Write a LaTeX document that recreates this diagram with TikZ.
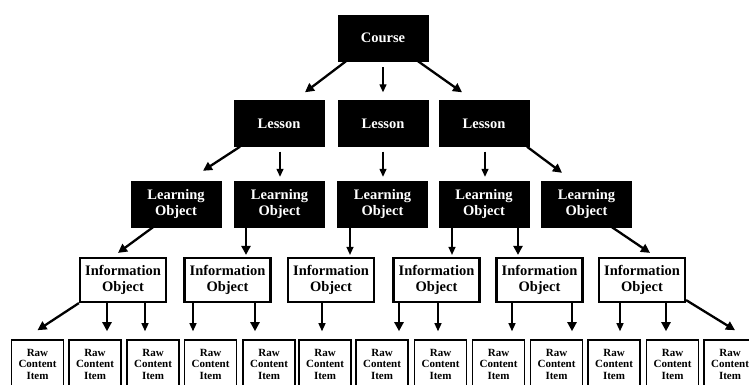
\documentclass[tikz,border=0pt]{standalone}
\usepackage{fontspec}
\setmainfont{Liberation Serif}
\usetikzlibrary{arrows.meta}
\begin{document}
\begin{tikzpicture}[x=1pt,y=-1pt,
  dark/.style={draw=black,fill=black,text=white,minimum width=90pt,minimum height=46pt,inner sep=0pt,align=center,font=\bfseries\fontsize{14.5}{16}\selectfont},
  info/.style={draw=black,line width=2.2pt,fill=white,minimum width=86pt,minimum height=44pt,inner sep=0pt,align=center,font=\bfseries\fontsize{14.5}{16}\selectfont},
  raw/.style={draw=black,line width=1.6pt,fill=white,minimum width=52pt,minimum height=48pt,inner sep=0pt,align=center,font=\bfseries\fontsize{11}{11.5}\selectfont},
  arr/.style={line width=1.3pt,-{Triangle[length=8pt,width=7pt]}},
  tarr/.style={line width=2.3pt,-{Triangle[length=9pt,width=9pt]}}]
\useasboundingbox (0,0) rectangle (749,384);
% nodes
\node[dark] (course) at (383,38) {Course};
\node[dark] (l1) at (279,123.5) {Lesson};
\node[dark] (l2) at (383,123.5) {Lesson};
\node[dark] (l3) at (484,123.5) {Lesson};
\node[dark] (lo1) at (176,204) {Learning\\Object};
\node[dark] (lo2) at (279.5,204) {Learning\\Object};
\node[dark] (lo3) at (382.5,204) {Learning\\Object};
\node[dark] (lo4) at (484,204) {Learning\\Object};
\node[dark] (lo5) at (586.5,204) {Learning\\Object};
\node[info] (io1) at (123,280) {Information\\Object};
\node[info] (io2) at (227.5,280) {Information\\Object};
\node[info] (io3) at (331,280) {Information\\Object};
\node[info] (io4) at (436.5,280) {Information\\Object};
\node[info] (io5) at (539.5,280) {Information\\Object};
\node[info] (io6) at (642,280) {Information\\Object};
\foreach \n/\x in {1/37.5,2/95,3/153,4/210.5,5/269,6/325,7/382,8/440.5,9/498.5,10/556.5,11/614,12/672.5,13/730}{
  \node[raw] (rc\n) at (\x,364) {Raw\\Content\\Item};
}
% course -> lessons
\draw[tarr] ([xshift=-37]course.south) -- ([xshift=26,yshift=8]l1.north);
\draw[arr] ([yshift=-6]course.south) -- ([yshift=8]course.south |- l2.north);
\draw[tarr] ([xshift=35]course.south) -- ([xshift=-22,yshift=8]l3.north);
% lessons -> learning objects
\draw[tarr] ([xshift=-39]l1.south) -- ([xshift=27,yshift=10]lo1.north);
\draw[arr] ([xshift=1,yshift=-5]l1.south) -- ([xshift=1,yshift=4]l1.south |- lo2.north);
\draw[arr] ([yshift=-5]l2.south) -- ([yshift=4]l2.south |- lo3.north);
\draw[arr] ([xshift=1,yshift=-5]l3.south) -- ([xshift=1,yshift=4]l3.south |- lo4.north);
\draw[tarr] ([xshift=43]l3.south) -- ([xshift=-24.5,yshift=8]lo5.north);
% learning objects -> information objects
\draw[tarr] ([xshift=-23]lo1.south) -- ([xshift=-5,yshift=4]io1.north);
\draw[tarr] ([xshift=-33.5]lo2.south) -- ([xshift=-33.5,yshift=2]lo2.south |- io2.north);
\draw[arr] ([xshift=-32.5]lo3.south) -- ([xshift=-32.5,yshift=2]lo3.south |- io3.north);
\draw[arr] ([xshift=-32]lo4.south) -- ([xshift=-32,yshift=2]lo4.south |- io4.north);
\draw[tarr] ([xshift=34]lo4.south) -- ([xshift=34,yshift=2]lo4.south |- io5.north);
\draw[tarr] ([xshift=25.5]lo5.south) -- ([xshift=8,yshift=4]io6.north);
% information objects -> raw content items
\draw[tarr] (io1.south west) -- ([yshift=9]rc1.north);
\draw[tarr] ([xshift=-16]io1.south) -- ([xshift=-16,yshift=8]io1.south |- rc2.north);
\draw[arr] ([xshift=22]io1.south) -- ([xshift=22,yshift=8]io1.south |- rc3.north);
\draw[arr] ([xshift=-34.5]io2.south) -- ([xshift=-34.5,yshift=8]io2.south |- rc4.north);
\draw[tarr] ([xshift=27.5]io2.south) -- ([xshift=27.5,yshift=8]io2.south |- rc5.north);
\draw[arr] ([xshift=-9]io3.south) -- ([xshift=-9,yshift=8]io3.south |- rc6.north);
\draw[tarr] ([xshift=-37.5]io4.south) -- ([xshift=-37.5,yshift=8]io4.south |- rc7.north);
\draw[arr] ([xshift=1.5]io4.south) -- ([xshift=1.5,yshift=8]io4.south |- rc8.north);
\draw[arr] ([xshift=-27.5]io5.south) -- ([xshift=-27.5,yshift=8]io5.south |- rc9.north);
\draw[tarr] ([xshift=32.5]io5.south) -- ([xshift=32.5,yshift=8]io5.south |- rc10.north);
\draw[arr] ([xshift=-22]io6.south) -- ([xshift=-22,yshift=8]io6.south |- rc11.north);
\draw[tarr] ([xshift=24]io6.south) -- ([xshift=24,yshift=8]io6.south |- rc12.north);
\draw[tarr] ([yshift=3]io6.south east) -- ([xshift=5,yshift=9]rc13.north);
\end{tikzpicture}
\end{document}
